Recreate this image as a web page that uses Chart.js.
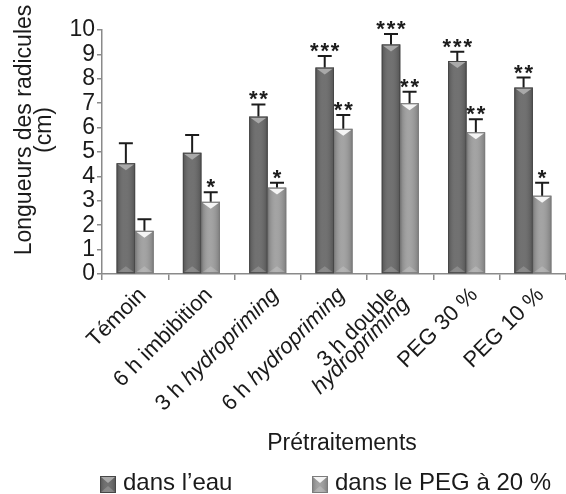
<!DOCTYPE html>
<html>
<head>
<meta charset="utf-8">
<script src="https://cdn.jsdelivr.net/npm/chart.js@4.4.1/dist/chart.umd.min.js"></script>
<style>
  html, body { margin: 0; padding: 0; background: #fff; }
  #wrap { width: 566px; height: 494px; position: relative; }
</style>
</head>
<body>
<div id="wrap"><canvas id="chart" width="566" height="494"></canvas></div>
<script>
// categories (second entry of a line array = next line), italic words
const categories = ['Témoin', '6 h imbibition', '3 h hydropriming', '6 h hydropriming', ['3 h double', 'hydropriming'], 'PEG 30 %', 'PEG 10 %'];
const italicWords = ['hydropriming'];

// radicle length (cm)
const waterValues = [4.54, 4.97, 6.45, 8.46, 9.41, 8.73, 7.64];
const waterErrors = [0.82, 0.73, 0.50, 0.47, 0.43, 0.38, 0.41];
const waterStars = ['', '', '**', '***', '***', '***', '**'];

const pegValues = [1.77, 2.96, 3.54, 5.95, 7.00, 5.81, 3.21];
const pegErrors = [0.47, 0.39, 0.20, 0.57, 0.47, 0.53, 0.53];
const pegStars = ['', '*', '*', '**', '**', '**', '*'];

const seriesNames = ['dans l\u2019eau', 'dans le PEG à 20 %'];
const yTitle = ['Longueurs des radicules', '(cm)'];
const xTitle = 'Prétraitements';
const yMin = 0, yMax = 10, yStep = 1;

const FONT = '"Liberation Sans", Arial, Helvetica, sans-serif';
const styles = [
    { fill: '#686868', border: '#474747', tri: '#a9a9a9' },
    { fill: '#9e9e9e', border: '#7c7c7c', tri: '#f4f4f4' }
];
const errors = [waterErrors, pegErrors];
const stars = [waterStars, pegStars];

// gradient shading + light triangle on top of a bar
function shadeBar(ctx, left, top, width, bottom, st) {
    const g = ctx.createLinearGradient(left, 0, left + width, 0);
    g.addColorStop(0, 'rgba(0,0,0,0.22)');
    g.addColorStop(0.45, 'rgba(255,255,255,0.06)');
    g.addColorStop(1, 'rgba(0,0,0,0.22)');
    ctx.fillStyle = g;
    ctx.fillRect(left, top, width, bottom - top);
    const th = Math.min(6, (bottom - top) / 2);
    ctx.fillStyle = st.tri;
    ctx.beginPath();
    ctx.moveTo(left + 1, top + 1);
    ctx.lineTo(left + width - 1, top + 1);
    ctx.lineTo(left + width / 2, top + 1 + th);
    ctx.closePath();
    ctx.fill();
    ctx.fillStyle = 'rgba(255,255,255,0.18)';
    ctx.beginPath();
    ctx.moveTo(left + 1, bottom - 1);
    ctx.lineTo(left + width - 1, bottom - 1);
    ctx.lineTo(left + width / 2, bottom - 1 - th);
    ctx.closePath();
    ctx.fill();
    ctx.strokeStyle = st.border;
    ctx.lineWidth = 1;
    ctx.strokeRect(left + 0.5, top + 0.5, width - 1, bottom - top - 1);
}

function drawRichRight(ctx, text, size) {
    const parts = text.split(' ');
    const segs = parts.map((w, i) => ({
        t: (i < parts.length - 1) ? w + ' ' : w,
        f: (italicWords.includes(w) ? 'italic ' : '') + size + 'px ' + FONT
    }));
    let total = 0;
    segs.forEach(s => { ctx.font = s.f; s.w = ctx.measureText(s.t).width; total += s.w; });
    let x = -total;
    segs.forEach(s => { ctx.font = s.f; ctx.fillText(s.t, x, 0); x += s.w; });
}

const decorPlugin = {
    id: 'decor',
    afterDatasetsDraw(chart) {
        const ctx = chart.ctx;
        const y = chart.scales.y;
        ctx.save();
        chart.data.datasets.forEach((ds, di) => {
            const meta = chart.getDatasetMeta(di);
            meta.data.forEach((bar, i) => {
                const p = bar.getProps(['x', 'y', 'base', 'width'], true);
                shadeBar(ctx, p.x - p.width / 2, p.y, p.width, p.base, styles[di]);
                // error bar (upper only)
                const top = y.getPixelForValue(ds.data[i] + errors[di][i]);
                ctx.strokeStyle = '#1c1c1c';
                ctx.lineWidth = 2;
                ctx.beginPath();
                ctx.moveTo(p.x, p.y);
                ctx.lineTo(p.x, top);
                ctx.moveTo(p.x - 7, top);
                ctx.lineTo(p.x + 7, top);
                ctx.stroke();
                if (stars[di][i]) {
                    ctx.fillStyle = '#1c1c1c';
                    ctx.font = 'bold 22px ' + FONT;
                    ctx.textAlign = 'center';
                    ctx.textBaseline = 'alphabetic';
                    ctx.fillText(stars[di][i].split('').join('\u200A'), p.x, top + 2);
                }
            });
        });
        ctx.restore();
    },
    afterDraw(chart) {
        const ctx = chart.ctx;
        const xs = chart.scales.x;
        const area = chart.chartArea;
        ctx.save();
        ctx.fillStyle = '#1a1a1a';
        ctx.textAlign = 'left';
        ctx.textBaseline = 'alphabetic';
        // rotated category labels
        categories.forEach((c, i) => {
            const lines = Array.isArray(c) ? c : [c];
            const k = lines.length;
            const cx = xs.getPixelForValue(i);
            lines.forEach((ln, j) => {
                ctx.save();
                ctx.translate(cx + 12 - (k - 1) * 14 + j * 12, area.bottom + 22 - (k - 1) + j * 10);
                ctx.rotate(-Math.PI / 4);
                drawRichRight(ctx, ln, 22);
                ctx.restore();
            });
        });
        // x title
        ctx.font = '23px ' + FONT;
        ctx.textAlign = 'center';
        ctx.fillText(xTitle, 342, 450);
        // y title
        ctx.save();
        ctx.translate(0, (area.top + area.bottom) / 2 - 22);
        ctx.rotate(-Math.PI / 2);
        yTitle.forEach((t, j) => ctx.fillText(t, 0, 31 + j * 20));
        ctx.restore();
        // legend
        const legendX = [100, 312];
        seriesNames.forEach((name, di) => {
            shadeBoxFill(ctx, legendX[di], 476, 16, 17, styles[di]);
            ctx.fillStyle = '#1a1a1a';
            ctx.font = '24px ' + FONT;
            ctx.textAlign = 'left';
            ctx.fillText(name, legendX[di] + 23, 490);
        });
        ctx.restore();
    }
};

function shadeBoxFill(ctx, x, y, w, h, st) {
    ctx.fillStyle = st.fill;
    ctx.fillRect(x, y, w, h);
    shadeBar(ctx, x, y, w, y + h, st);
}

new Chart(document.getElementById('chart'), {
    type: 'bar',
    data: {
        labels: categories,
        datasets: [
            { label: seriesNames[0], data: waterValues, backgroundColor: styles[0].fill, borderWidth: 0 },
            { label: seriesNames[1], data: pegValues, backgroundColor: styles[1].fill, borderWidth: 0 }
        ]
    },
    options: {
        responsive: false,
        animation: false,
        events: [],
        layout: { padding: { top: 30, right: 0 } },
        datasets: { bar: { categoryPercentage: 0.56, barPercentage: 1 } },
        plugins: { legend: { display: false }, tooltip: { enabled: false } },
        scales: {
            x: {
                ticks: { display: false },
                grid: { offset: true, drawOnChartArea: false, drawTicks: true, tickLength: 6, color: '#8a8a8a', lineWidth: 1.5 },
                border: { color: '#8a8a8a', width: 1.5 },
                afterFit(scale) { scale.height = 220; }
            },
            y: {
                min: yMin, max: yMax,
                ticks: { stepSize: yStep, autoSkip: false, padding: 2, color: '#1a1a1a', font: { family: FONT, size: 23 } },
                grid: { drawOnChartArea: false, drawTicks: true, tickLength: 5, color: '#8a8a8a', lineWidth: 1.5 },
                border: { color: '#8a8a8a', width: 1.5 },
                afterFit(scale) { scale.width = 102; }
            }
        }
    },
    plugins: [decorPlugin]
});
</script>
</body>
</html>
